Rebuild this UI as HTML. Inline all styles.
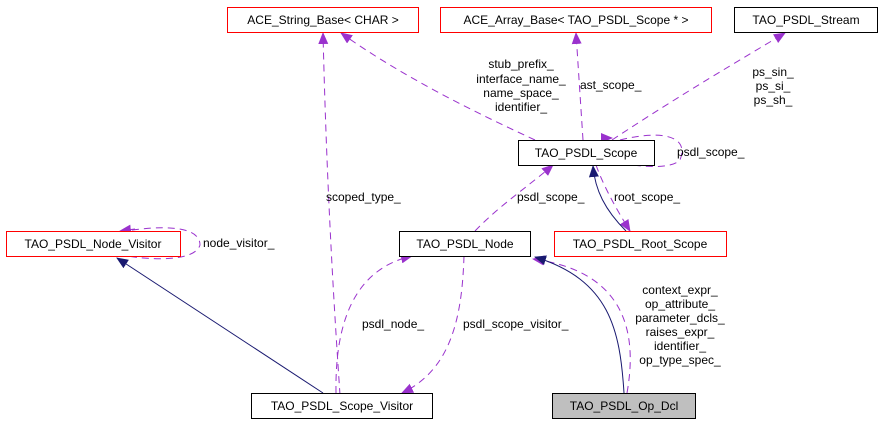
<!DOCTYPE html>
<html><head><meta charset="utf-8"><style>
html,body{margin:0;padding:0;background:#fff}
svg{display:block}
text{font-family:"Liberation Sans",sans-serif;font-size:12px;fill:#000}
</style></head><body>
<svg width="883" height="424" viewBox="0 0 883 424" xmlns="http://www.w3.org/2000/svg">
<defs>
<marker id="p" markerWidth="12" markerHeight="10" refX="11" refY="5" orient="auto" markerUnits="userSpaceOnUse"><path d="M0,0 L12,5 L0,10 z" fill="#9a32cd"/></marker>
<marker id="n" markerWidth="12" markerHeight="10" refX="11" refY="5" orient="auto" markerUnits="userSpaceOnUse"><path d="M0,0 L12,5 L0,10 z" fill="#191970"/></marker>
</defs>
<g fill="none" stroke="#9a32cd" stroke-dasharray="7,5">
<path d="M340,395 C335,320 327,200 323,33" marker-end="url(#p)"/>
<path d="M535,140 C470,110 400,75 341,33" marker-end="url(#p)"/>
<path d="M583,140 L576,33" marker-end="url(#p)"/>
<path d="M612,140 C680,95 740,60 785,33" marker-end="url(#p)"/>
<path d="M620,140 C660,130 690,135 680,160 C670,170 640,166 625,164" />
<path d="M610,138 L612,138" marker-end="url(#p)"/>
<path d="M475,231 C500,205 530,185 553,165" marker-end="url(#p)"/>
<path d="M596,165 C605,190 620,215 630,231" marker-end="url(#p)"/>
<path d="M120,232 C160,225 200,225 200,245 C195,262 150,260 128,256"/>
<path d="M135,229 L120,231" marker-end="url(#p)"/>
<path d="M336,393 C335,330 350,270 412,256" marker-end="url(#p)"/>
<path d="M464,256 C462,320 450,370 402,393" marker-end="url(#p)"/>
<path d="M627,393 C640,320 615,270 533,259" marker-end="url(#p)"/>
</g>
<g fill="none" stroke="#191970">
<path d="M323,393 L117,258" marker-end="url(#n)"/>
<path d="M624,393 C620,330 610,280 535,257" marker-end="url(#n)"/>
<path d="M626,231 C605,210 595,190 593,166" marker-end="url(#n)"/>
</g>
<g stroke-width="1" fill="#fff">
<rect x="227.5" y="7.5" width="191" height="25" stroke="#f00"/>
<rect x="440.5" y="7.5" width="271" height="25" stroke="#f00"/>
<rect x="734.5" y="7.5" width="143" height="25" stroke="#000"/>
<rect x="518.5" y="140.5" width="136" height="25" stroke="#000"/>
<rect x="6.5" y="231.5" width="174" height="25" stroke="#f00"/>
<rect x="399.5" y="231.5" width="131" height="25" stroke="#000"/>
<rect x="554.5" y="231.5" width="172" height="25" stroke="#f00"/>
<rect x="251.5" y="393.5" width="181" height="25" stroke="#000"/>
<rect x="552.5" y="393.5" width="143" height="25" stroke="#000" fill="#bfbfbf"/>
</g>
<g text-anchor="middle">
<text x="323" y="24">ACE_String_Base&lt; CHAR &gt;</text>
<text x="576" y="24">ACE_Array_Base&lt; TAO_PSDL_Scope * &gt;</text>
<text x="806" y="24">TAO_PSDL_Stream</text>
<text x="586" y="157">TAO_PSDL_Scope</text>
<text x="93" y="248">TAO_PSDL_Node_Visitor</text>
<text x="465" y="248">TAO_PSDL_Node</text>
<text x="640" y="248">TAO_PSDL_Root_Scope</text>
<text x="342" y="410">TAO_PSDL_Scope_Visitor</text>
<text x="624" y="410">TAO_PSDL_Op_Dcl</text>
<text x="521" y="68">stub_prefix_</text>
<text x="521" y="83">interface_name_</text>
<text x="521" y="97">name_space_</text>
<text x="521" y="111">identifier_</text>
<text x="773" y="76">ps_sin_</text>
<text x="773" y="90">ps_si_</text>
<text x="773" y="104">ps_sh_</text>
<text x="680" y="294">context_expr_</text>
<text x="680" y="308">op_attribute_</text>
<text x="680" y="322">parameter_dcls_</text>
<text x="680" y="336">raises_expr_</text>
<text x="680" y="350">identifier_</text>
<text x="680" y="364">op_type_spec_</text>
</g>
<text x="580" y="89">ast_scope_</text>
<text x="677" y="156">psdl_scope_</text>
<text x="517" y="201">psdl_scope_</text>
<text x="614" y="201">root_scope_</text>
<text x="203" y="247">node_visitor_</text>
<text x="326" y="201">scoped_type_</text>
<text x="362" y="328">psdl_node_</text>
<text x="463" y="328">psdl_scope_visitor_</text>
</svg>
</body></html>
